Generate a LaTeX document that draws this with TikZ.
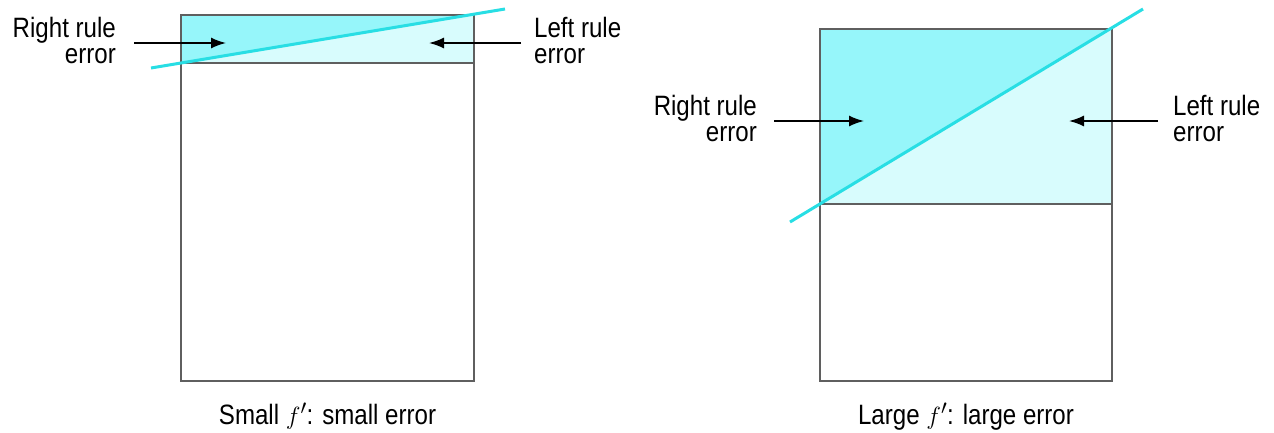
\documentclass[tikz,border=0pt]{standalone}
\usepackage{fontspec}
\setmainfont{Liberation Sans}[FakeStretch=0.86]
\usetikzlibrary{arrows.meta}
\definecolor{bandDark}{RGB}{150,246,250}
\definecolor{bandLight}{RGB}{216,252,253}
\definecolor{slopeLine}{RGB}{40,222,228}
\definecolor{frameGrey}{RGB}{95,95,95}

\begin{document}
\begin{tikzpicture}[x=1pt,y=-1pt,
  lbl/.style={font=\fontsize{28}{26}\selectfont, inner sep=0pt},
  captext/.style={font=\fontsize{28}{26}\selectfont, inner sep=0pt, anchor=base},
  frame/.style={draw=frameGrey, line width=2pt},
  slope/.style={draw=slopeLine, line width=3pt},
  pointer/.style={draw=black, line width=1.6pt, -{Latex[length=15pt,width=11pt]}}]
\useasboundingbox (0,0) rectangle (1274,432);

% ---------- left panel: small derivative ----------
\coordinate (La) at (181,15);   % top-left corner
\coordinate (Lb) at (474,15);   % top-right corner
\coordinate (Lc) at (474,63);   % band bottom-right
\coordinate (Ld) at (181,63);   % band bottom-left
\coordinate (Lf) at (474,381);  % frame bottom-right
\fill[bandDark] (La) -- (Lb) -- (Ld) -- cycle;
\fill[bandLight] (Ld) -- (Lb) -- (Lc) -- cycle;
\draw[frame] (La) rectangle (Lf);
\draw[frame] (Ld) -- (Lc);
\coordinate (Ls0) at (151,68);
\coordinate (Ls1) at (505,9);
\draw[slope] (Ls0) -- (Ls1);

\node[lbl, align=right, anchor=east] (LRtext) at (116,40) {Right rule\\error};
\node[lbl, align=left, anchor=west] (LLtext) at (534,40) {Left rule\\error};
\coordinate (LRtail) at (134,43);
\coordinate (LRtip) at (226,43);
\coordinate (LLtail) at (521,43);
\coordinate (LLtip) at (429,43);
\draw[pointer] (LRtail) -- (LRtip);
\draw[pointer] (LLtail) -- (LLtip);
\node[captext] (Lcap) at (327.5,424) {Small $f'$: small error};

% ---------- right panel: large derivative ----------
\coordinate (Ra) at (820,29);
\coordinate (Rb) at (1112,29);
\coordinate (Rc) at (1112,204);
\coordinate (Rd) at (820,204);
\coordinate (Rf) at (1112,381);
\fill[bandDark] (Ra) -- (Rb) -- (Rd) -- cycle;
\fill[bandLight] (Rd) -- (Rb) -- (Rc) -- cycle;
\draw[frame] (Ra) rectangle (Rf);
\draw[frame] (Rd) -- (Rc);
\coordinate (Rs0) at (790,222);
\coordinate (Rs1) at (1143,9);
\draw[slope] (Rs0) -- (Rs1);

\node[lbl, align=right, anchor=east] (RRtext) at (757,118) {Right rule\\error};
\node[lbl, align=left, anchor=west] (RLtext) at (1173,118) {Left rule\\error};
\coordinate (RRtail) at (774,121);
\coordinate (RRtip) at (864,121);
\coordinate (RLtail) at (1158,121);
\coordinate (RLtip) at (1069,121);
\draw[pointer] (RRtail) -- (RRtip);
\draw[pointer] (RLtail) -- (RLtip);
\node[captext] (Rcap) at (966,424) {Large $f'$: large error};
\end{tikzpicture}
\end{document}
